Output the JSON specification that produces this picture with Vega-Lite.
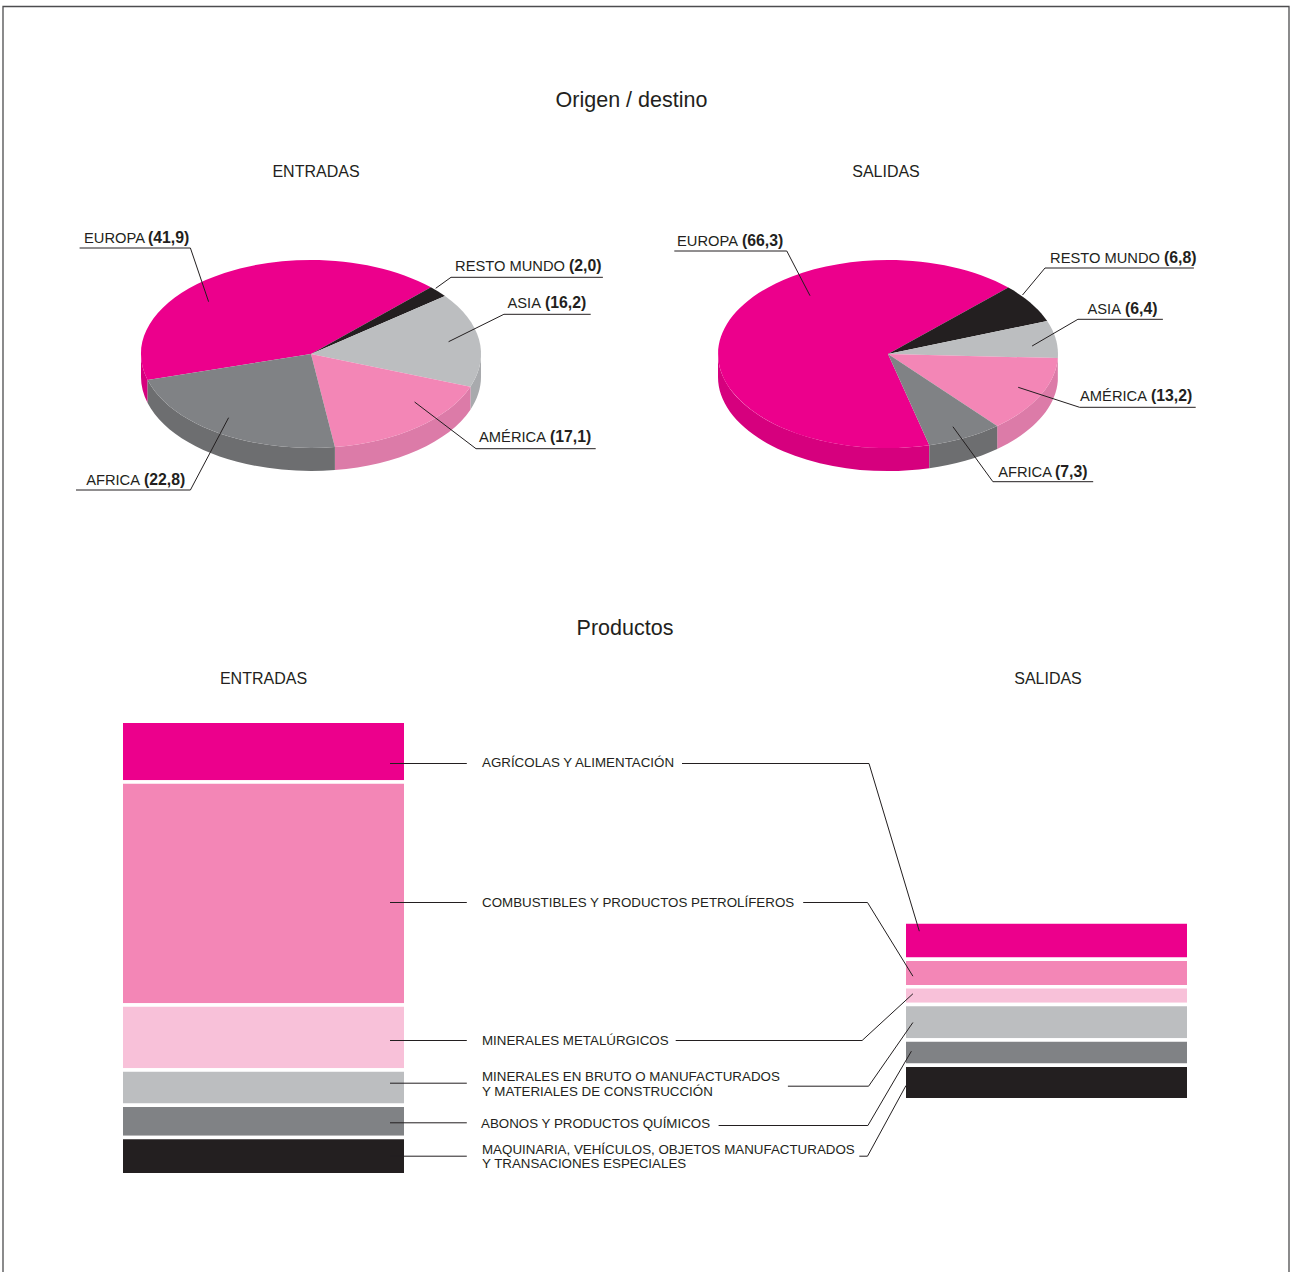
{"$schema":"https://vega.github.io/schema/vega-lite/v6.json","width":1290,"height":1272,"padding":0,"autosize":{"type":"fit","contains":"padding"},"background":"white","config":{"view":{"stroke":null},"axis":{"disable":true},"legend":{"disable":true},"text":{"font":"Liberation Sans","color":"#231F20","baseline":"middle"}},
"datasets":{"pies":[
{"chart":"ENTRADAS","region":"EUROPA","value":41.9,"etiqueta":"(41,9)","slice":"E-EUROPA"},
{"chart":"ENTRADAS","region":"RESTO MUNDO","value":2.0,"etiqueta":"(2,0)","slice":"E-RESTO"},
{"chart":"ENTRADAS","region":"ASIA","value":16.2,"etiqueta":"(16,2)","slice":"E-ASIA"},
{"chart":"ENTRADAS","region":"AMÉRICA","value":17.1,"etiqueta":"(17,1)","slice":"E-AMERICA"},
{"chart":"ENTRADAS","region":"AFRICA","value":22.8,"etiqueta":"(22,8)","slice":"E-AFRICA"},
{"chart":"SALIDAS","region":"EUROPA","value":66.3,"etiqueta":"(66,3)","slice":"S-EUROPA"},
{"chart":"SALIDAS","region":"RESTO MUNDO","value":6.8,"etiqueta":"(6,8)","slice":"S-RESTO"},
{"chart":"SALIDAS","region":"ASIA","value":6.4,"etiqueta":"(6,4)","slice":"S-ASIA"},
{"chart":"SALIDAS","region":"AMÉRICA","value":13.2,"etiqueta":"(13,2)","slice":"S-AMERICA"},
{"chart":"SALIDAS","region":"AFRICA","value":7.3,"etiqueta":"(7,3)","slice":"S-AFRICA"}],
"prods":[
{"chart":"ENTRADAS","producto":"AGRÍCOLAS Y ALIMENTACIÓN","value":13.4,"orden":6,"clave":"E-agri"},
{"chart":"ENTRADAS","producto":"COMBUSTIBLES Y PRODUCTOS PETROLÍFEROS","value":49.2,"orden":5,"clave":"E-comb"},
{"chart":"ENTRADAS","producto":"MINERALES METALÚRGICOS","value":14.3,"orden":4,"clave":"E-met"},
{"chart":"ENTRADAS","producto":"MINERALES EN BRUTO O MANUFACTURADOS\nY MATERIALES DE CONSTRUCCIÓN","value":7.8,"orden":3,"clave":"E-min"},
{"chart":"ENTRADAS","producto":"ABONOS Y PRODUCTOS QUÍMICOS","value":7.1,"orden":2,"clave":"E-abo"},
{"chart":"ENTRADAS","producto":"MAQUINARIA, VEHÍCULOS, OBJETOS MANUFACTURADOS\nY TRANSACIONES ESPECIALES","value":8.2,"orden":1,"clave":"E-maq"},
{"chart":"SALIDAS","producto":"AGRÍCOLAS Y ALIMENTACIÓN","value":8.2,"orden":6,"clave":"S-agri"},
{"chart":"SALIDAS","producto":"COMBUSTIBLES Y PRODUCTOS PETROLÍFEROS","value":6.1,"orden":5,"clave":"S-comb"},
{"chart":"SALIDAS","producto":"MINERALES METALÚRGICOS","value":3.9,"orden":4,"clave":"S-met"},
{"chart":"SALIDAS","producto":"MINERALES EN BRUTO O MANUFACTURADOS\nY MATERIALES DE CONSTRUCCIÓN","value":7.8,"orden":3,"clave":"S-min"},
{"chart":"SALIDAS","producto":"ABONOS Y PRODUCTOS QUÍMICOS","value":5.6,"orden":2,"clave":"S-abo"},
{"chart":"SALIDAS","producto":"MAQUINARIA, VEHÍCULOS, OBJETOS MANUFACTURADOS\nY TRANSACIONES ESPECIALES","value":7.6,"orden":1,"clave":"S-maq"}]},
"layer":[
{"data":{"values":[{"parte":"marco"}]},"mark":{"type":"point","filled":false,"size":4,"opacity":1,"stroke":"#4D4D4F","strokeWidth":1.3},"encoding":{"shape":{"field":"parte","type":"nominal","scale":{"domain":["marco"],"range":["M-640,640 L-640,-626 L646,-626 L646,640"]}}}},
{"data":{"values":[{"titulo":"Origen / destino"}]},"mark":{"type":"text","fontSize":21.5,"dx":-11.5,"dy":-531.5},"encoding":{"text":{"field":"titulo"}}},
{"data":{"values":[{"titulo":"Productos"}]},"mark":{"type":"text","fontSize":21.5,"dx":-18,"dy":-4},"encoding":{"text":{"field":"titulo"}}},
{"data":{"name":"pies"},"resolve":{"scale":{"fill":"independent","shape":"independent"}},"layer":[
{"transform":[{"filter":{"field":"slice","oneOf":["E-EUROPA","E-ASIA","E-AMERICA","E-AFRICA","S-EUROPA","S-ASIA","S-AMERICA","S-AFRICA"]}}],"mark":{"type":"point","filled":true,"size":4,"opacity":1,"strokeWidth":0},"encoding":{"x":{"field":"chart","type":"nominal","scale":{"type":"point","padding":0,"domain":["ENTRADAS","SALIDAS"],"range":[311,888]}},"y":{"field":"chart","type":"nominal","scale":{"type":"point","padding":0,"domain":["ENTRADAS","SALIDAS"],"range":[354,354]}},
"fill":{"field":"region","type":"nominal","scale":{"domain":["EUROPA","ASIA","AMÉRICA","AFRICA"],"range":["#D6007E","#A8AAAD","#DC7BA8","#6D6E70"]}},
"shape":{"field":"slice","type":"nominal","scale":{"domain":["E-EUROPA","E-ASIA","E-AMERICA","E-AFRICA","S-EUROPA","S-ASIA","S-AMERICA","S-AFRICA"],"range":[
"M-163.4,25.9 A170,94 0 0 1 -170,0 L-170,23 A170,94 0 0 0 -163.4,48.9 Z",
"M170,0 A170,94 0 0 1 159.4,32.7 L159.4,55.7 A170,94 0 0 0 170,23 Z",
"M159.4,32.7 A170,94 0 0 1 23.9,93.1 L23.9,116.1 A170,94 0 0 0 159.4,55.7 Z",
"M23.9,93.1 A170,94 0 0 1 -163.4,25.9 L-163.4,48.9 A170,94 0 0 0 23.9,116.1 Z",
"M41.3,91.3 A170,94 0 0 1 -170,0 L-170,23 A170,94 0 0 0 41.3,114.3 Z",
"M170,0 A170,94 0 0 1 169.8,4.1 L169.8,27.1 A170,94 0 0 0 170,23 Z",
"M169.8,4.1 A170,94 0 0 1 109.2,72 L109.2,95 A170,94 0 0 0 169.8,27.1 Z",
"M109.2,72 A170,94 0 0 1 41.3,91.3 L41.3,114.3 A170,94 0 0 0 109.2,95 Z"]}}}},
{"mark":{"type":"point","filled":true,"size":4,"opacity":1,"strokeWidth":0},"encoding":{"x":{"field":"chart","type":"nominal"},"y":{"field":"chart","type":"nominal"},
"fill":{"field":"region","type":"nominal","scale":{"domain":["EUROPA","RESTO MUNDO","ASIA","AMÉRICA","AFRICA"],"range":["#EC008C","#231F20","#BCBEC0","#F386B6","#808285"]}},
"shape":{"field":"slice","type":"nominal","scale":{"domain":["E-EUROPA","E-RESTO","E-ASIA","E-AMERICA","E-AFRICA","S-EUROPA","S-RESTO","S-ASIA","S-AMERICA","S-AFRICA"],"range":[
"M0,0 L-163.4,25.9 A170,94 0 0 1 119.9,-66.7 Z",
"M0,0 L119.9,-66.7 A170,94 0 0 1 134,-57.9 Z",
"M0,0 L134,-57.9 A170,94 0 0 1 159.4,32.7 Z",
"M0,0 L159.4,32.7 A170,94 0 0 1 23.9,93.1 Z",
"M0,0 L23.9,93.1 A170,94 0 0 1 -163.4,25.9 Z",
"M0,0 L41.3,91.3 A170,94 0 1 1 120.3,-66.4 Z",
"M0,0 L120.3,-66.4 A170,94 0 0 1 159.2,-33 Z",
"M0,0 L159.2,-33 A170,94 0 0 1 169.8,4.1 Z",
"M0,0 L169.8,4.1 A170,94 0 0 1 109.2,72 Z",
"M0,0 L109.2,72 A170,94 0 0 1 41.3,91.3 Z"]}}}},
{"mark":{"type":"point","filled":false,"size":4,"opacity":1,"stroke":"#231F20","strokeWidth":1},"encoding":{"x":{"field":"chart","type":"nominal"},"y":{"field":"chart","type":"nominal"},
"shape":{"field":"slice","type":"nominal","scale":{"domain":["E-EUROPA","E-RESTO","E-ASIA","E-AMERICA","E-AFRICA","S-EUROPA","S-RESTO","S-ASIA","S-AMERICA","S-AFRICA"],"range":[
"M-231.4,-106 L-120.6,-106 L-102.4,-52.3",
"M291.9,-76.7 L140,-76.7 L124.7,-65.7",
"M279.7,-39.7 L192.9,-39.7 L137.6,-12.3",
"M284.7,94.7 L165,94.7 L103.6,48",
"M-235,136 L-120.6,136 L-82.4,63.7",
"M-213.7,-103 L-101.2,-103 L-78,-58.3",
"M305.9,-86 L157,-86 L134.5,-59",
"M274.9,-34.7 L189.9,-34.7 L144.1,-8",
"M307.7,53.3 L191.6,53.3 L130.2,33.3",
"M205.2,127.7 L104.9,127.7 L64.9,72.7"]}}}},
{"transform":[{"filter":{"field":"slice","equal":"E-EUROPA"}}],"mark":{"type":"text","fontSize":16,"dx":5,"dy":-182},"encoding":{"x":{"field":"chart","type":"nominal"},"y":{"field":"chart","type":"nominal"},"text":{"field":"chart"}}},
{"transform":[{"filter":{"field":"slice","equal":"S-EUROPA"}}],"mark":{"type":"text","fontSize":16,"dx":-2,"dy":-182},"encoding":{"x":{"field":"chart","type":"nominal"},"y":{"field":"chart","type":"nominal"},"text":{"field":"chart"}}},
{"transform":[{"filter":{"field":"slice","equal":"E-EUROPA"}}],"mark":{"type":"text","fontSize":14.7,"align":"right","dx":-166,"dy":-115},"encoding":{"x":{"field":"chart","type":"nominal"},"y":{"field":"chart","type":"nominal"},"text":{"field":"region"}}},
{"transform":[{"filter":{"field":"slice","equal":"E-EUROPA"}}],"mark":{"type":"text","fontSize":15.8,"fontWeight":"bold","align":"left","dx":-163,"dy":-116},"encoding":{"x":{"field":"chart","type":"nominal"},"y":{"field":"chart","type":"nominal"},"text":{"field":"etiqueta"}}},
{"transform":[{"filter":{"field":"slice","equal":"E-RESTO"}}],"mark":{"type":"text","fontSize":14.7,"align":"right","dx":254,"dy":-87},"encoding":{"x":{"field":"chart","type":"nominal"},"y":{"field":"chart","type":"nominal"},"text":{"field":"region"}}},
{"transform":[{"filter":{"field":"slice","equal":"E-RESTO"}}],"mark":{"type":"text","fontSize":15.8,"fontWeight":"bold","align":"left","dx":258,"dy":-88},"encoding":{"x":{"field":"chart","type":"nominal"},"y":{"field":"chart","type":"nominal"},"text":{"field":"etiqueta"}}},
{"transform":[{"filter":{"field":"slice","equal":"E-ASIA"}}],"mark":{"type":"text","fontSize":14.7,"align":"right","dx":230,"dy":-50},"encoding":{"x":{"field":"chart","type":"nominal"},"y":{"field":"chart","type":"nominal"},"text":{"field":"region"}}},
{"transform":[{"filter":{"field":"slice","equal":"E-ASIA"}}],"mark":{"type":"text","fontSize":15.8,"fontWeight":"bold","align":"left","dx":234,"dy":-51},"encoding":{"x":{"field":"chart","type":"nominal"},"y":{"field":"chart","type":"nominal"},"text":{"field":"etiqueta"}}},
{"transform":[{"filter":{"field":"slice","equal":"E-AMERICA"}}],"mark":{"type":"text","fontSize":14.7,"align":"right","dx":235,"dy":84},"encoding":{"x":{"field":"chart","type":"nominal"},"y":{"field":"chart","type":"nominal"},"text":{"field":"region"}}},
{"transform":[{"filter":{"field":"slice","equal":"E-AMERICA"}}],"mark":{"type":"text","fontSize":15.8,"fontWeight":"bold","align":"left","dx":239,"dy":83},"encoding":{"x":{"field":"chart","type":"nominal"},"y":{"field":"chart","type":"nominal"},"text":{"field":"etiqueta"}}},
{"transform":[{"filter":{"field":"slice","equal":"E-AFRICA"}}],"mark":{"type":"text","fontSize":14.7,"align":"right","dx":-171,"dy":127},"encoding":{"x":{"field":"chart","type":"nominal"},"y":{"field":"chart","type":"nominal"},"text":{"field":"region"}}},
{"transform":[{"filter":{"field":"slice","equal":"E-AFRICA"}}],"mark":{"type":"text","fontSize":15.8,"fontWeight":"bold","align":"left","dx":-167,"dy":126},"encoding":{"x":{"field":"chart","type":"nominal"},"y":{"field":"chart","type":"nominal"},"text":{"field":"etiqueta"}}},
{"transform":[{"filter":{"field":"slice","equal":"S-EUROPA"}}],"mark":{"type":"text","fontSize":14.7,"align":"right","dx":-150,"dy":-112},"encoding":{"x":{"field":"chart","type":"nominal"},"y":{"field":"chart","type":"nominal"},"text":{"field":"region"}}},
{"transform":[{"filter":{"field":"slice","equal":"S-EUROPA"}}],"mark":{"type":"text","fontSize":15.8,"fontWeight":"bold","align":"left","dx":-146,"dy":-113},"encoding":{"x":{"field":"chart","type":"nominal"},"y":{"field":"chart","type":"nominal"},"text":{"field":"etiqueta"}}},
{"transform":[{"filter":{"field":"slice","equal":"S-RESTO"}}],"mark":{"type":"text","fontSize":14.7,"align":"right","dx":272,"dy":-95},"encoding":{"x":{"field":"chart","type":"nominal"},"y":{"field":"chart","type":"nominal"},"text":{"field":"region"}}},
{"transform":[{"filter":{"field":"slice","equal":"S-RESTO"}}],"mark":{"type":"text","fontSize":15.8,"fontWeight":"bold","align":"left","dx":276,"dy":-96},"encoding":{"x":{"field":"chart","type":"nominal"},"y":{"field":"chart","type":"nominal"},"text":{"field":"etiqueta"}}},
{"transform":[{"filter":{"field":"slice","equal":"S-ASIA"}}],"mark":{"type":"text","fontSize":14.7,"align":"right","dx":233,"dy":-44},"encoding":{"x":{"field":"chart","type":"nominal"},"y":{"field":"chart","type":"nominal"},"text":{"field":"region"}}},
{"transform":[{"filter":{"field":"slice","equal":"S-ASIA"}}],"mark":{"type":"text","fontSize":15.8,"fontWeight":"bold","align":"left","dx":237,"dy":-45},"encoding":{"x":{"field":"chart","type":"nominal"},"y":{"field":"chart","type":"nominal"},"text":{"field":"etiqueta"}}},
{"transform":[{"filter":{"field":"slice","equal":"S-AMERICA"}}],"mark":{"type":"text","fontSize":14.7,"align":"right","dx":259,"dy":43},"encoding":{"x":{"field":"chart","type":"nominal"},"y":{"field":"chart","type":"nominal"},"text":{"field":"region"}}},
{"transform":[{"filter":{"field":"slice","equal":"S-AMERICA"}}],"mark":{"type":"text","fontSize":15.8,"fontWeight":"bold","align":"left","dx":263,"dy":42},"encoding":{"x":{"field":"chart","type":"nominal"},"y":{"field":"chart","type":"nominal"},"text":{"field":"etiqueta"}}},
{"transform":[{"filter":{"field":"slice","equal":"S-AFRICA"}}],"mark":{"type":"text","fontSize":14.7,"align":"right","dx":164,"dy":118.5},"encoding":{"x":{"field":"chart","type":"nominal"},"y":{"field":"chart","type":"nominal"},"text":{"field":"region"}}},
{"transform":[{"filter":{"field":"slice","equal":"S-AFRICA"}}],"mark":{"type":"text","fontSize":15.8,"fontWeight":"bold","align":"left","dx":167,"dy":118},"encoding":{"x":{"field":"chart","type":"nominal"},"y":{"field":"chart","type":"nominal"},"text":{"field":"etiqueta"}}}
]},
{"data":{"name":"prods"},"resolve":{"scale":{"y":"independent"}},"layer":[
{"transform":[{"filter":{"field":"chart","equal":"ENTRADAS"}}],"mark":{"type":"bar","width":284.5,"stroke":"white","strokeWidth":3.5},"encoding":{"x":{"field":"chart","type":"nominal","scale":{"type":"point","padding":0,"domain":["ENTRADAS","SALIDAS"],"range":[263.5,1046.5]}},"y":{"field":"value","type":"quantitative","stack":"zero","scale":{"domain":[-21.45,259.04],"range":[1272,0],"nice":false,"zero":false}},"order":{"field":"orden"},"fill":{"field":"orden","type":"nominal","scale":{"domain":[6,5,4,3,2,1],"range":["#EC008C","#F386B6","#F8C1D9","#BCBEC0","#808285","#231F20"]}}}},
{"transform":[{"filter":{"field":"chart","equal":"SALIDAS"}}],"mark":{"type":"bar","width":284.5,"stroke":"white","strokeWidth":3.5},"encoding":{"x":{"field":"chart","type":"nominal"},"y":{"field":"value","type":"quantitative","stack":"zero","scale":{"domain":[-37.98,242.5],"range":[1272,0],"nice":false,"zero":false}},"order":{"field":"orden"},"fill":{"field":"orden","type":"nominal"}}},
{"mark":{"type":"point","filled":false,"size":4,"opacity":1,"stroke":"#231F20","strokeWidth":1},"encoding":{"x":{"field":"chart","type":"nominal"},"shape":{"field":"clave","type":"nominal","scale":{"domain":["E-agri","E-comb","E-met","E-min","E-abo","E-maq","S-agri","S-comb","S-met","S-min","S-abo","S-maq"],"range":[
"M126.5,131 L203.3,131","M126.5,270 L203.3,270","M126.5,408 L203.3,408","M126.5,450.7 L203.3,450.7","M126.5,490.3 L203.3,490.3","M126.5,523.7 L203.3,523.7",
"M-364.5,131 L-177.5,131 L-127.2,298.7",
"M-243.3,270 L-179,270 L-133.6,343.7",
"M-370.8,408 L-184.4,408 L-133.6,361.3",
"M-258.6,453.7 L-177.9,453.7 L-133.6,390",
"M-327.9,493 L-178.6,493 L-135.1,418.7",
"M-187.2,523.7 L-179,523.7 L-140.5,453"]}}}},
{"transform":[{"filter":{"field":"clave","equal":"E-agri"}}],"mark":{"type":"text","fontSize":16,"dy":46},"encoding":{"x":{"field":"chart","type":"nominal"},"text":{"field":"chart"}}},
{"transform":[{"filter":{"field":"clave","equal":"S-agri"}}],"mark":{"type":"text","fontSize":16,"dx":1.5,"dy":46},"encoding":{"x":{"field":"chart","type":"nominal"},"text":{"field":"chart"}}},
{"transform":[{"filter":{"field":"clave","equal":"E-agri"}}],"mark":{"type":"text","fontSize":13.35,"align":"left","dx":218.5,"dy":130},"encoding":{"x":{"field":"chart","type":"nominal"},"text":{"field":"producto"}}},
{"transform":[{"filter":{"field":"clave","equal":"E-comb"}}],"mark":{"type":"text","fontSize":13.35,"align":"left","dx":218.5,"dy":270},"encoding":{"x":{"field":"chart","type":"nominal"},"text":{"field":"producto"}}},
{"transform":[{"filter":{"field":"clave","equal":"E-met"}}],"mark":{"type":"text","fontSize":13.35,"align":"left","dx":218.5,"dy":408},"encoding":{"x":{"field":"chart","type":"nominal"},"text":{"field":"producto"}}},
{"transform":[{"filter":{"field":"clave","equal":"E-min"}}],"mark":{"type":"text","fontSize":13.35,"align":"left","lineBreak":"\n","lineHeight":15,"dx":218.5,"dy":444},"encoding":{"x":{"field":"chart","type":"nominal"},"text":{"field":"producto"}}},
{"transform":[{"filter":{"field":"clave","equal":"E-abo"}}],"mark":{"type":"text","fontSize":13.35,"align":"left","dx":217.5,"dy":491},"encoding":{"x":{"field":"chart","type":"nominal"},"text":{"field":"producto"}}},
{"transform":[{"filter":{"field":"clave","equal":"E-maq"}}],"mark":{"type":"text","fontSize":13.35,"align":"left","lineBreak":"\n","lineHeight":14,"dx":218.5,"dy":517},"encoding":{"x":{"field":"chart","type":"nominal"},"text":{"field":"producto"}}}
]}
],"resolve":{"scale":{"x":"independent","y":"independent","fill":"independent","shape":"independent"}}}
